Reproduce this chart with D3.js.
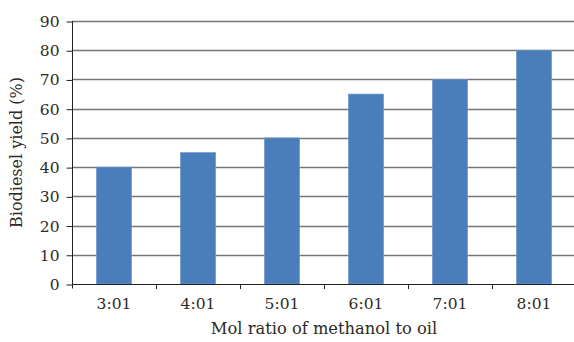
<!DOCTYPE html>
<html><head><meta charset="utf-8">
<script src="https://cdn.jsdelivr.net/npm/d3@7/dist/d3.min.js"></script>
<style>body{margin:0;background:#fff}svg{display:block}</style>
</head><body>
<svg id="c" width="574" height="342"></svg>
<script>
const categories = ["3:01","4:01","5:01","6:01","7:01","8:01"];
const values = [40,45,50,65,70,80];
const yTicks = [0,10,20,30,40,50,60,70,80,90];

(function(){
const svg = d3.select("#c");
const pL = 72, pR = 576, pT = 21, pB = 284;
const font = "'DejaVu Serif', 'Liberation Serif', serif";
const txt = "#302a24";
const x = d3.scaleBand().domain(categories).range([pL, pR]).paddingInner(0.58).paddingOuter(0.29);
const xb = d3.scaleBand().domain(categories).range([pL, pR]);
const y = d3.scaleLinear().domain([0, 90]).range([pB, pT]);

// gridlines
svg.append("g").selectAll("line").data(yTicks.slice(1)).join("line")
  .attr("x1", pL).attr("x2", pR)
  .attr("y1", d => Math.round(y(d)) + 0.5).attr("y2", d => Math.round(y(d)) + 0.5)
  .attr("stroke", "#777").attr("stroke-width", 1.4);

// bars
svg.append("g").selectAll("rect").data(values).join("rect")
  .attr("x", (d, i) => x(categories[i]))
  .attr("width", x.bandwidth())
  .attr("y", d => y(d))
  .attr("height", d => y(0) - y(d))
  .attr("fill", "#4a7ebb")
  .attr("stroke", "#6e98cc").attr("stroke-width", 0.6);

// y axis
const ya = d3.axisLeft(y).tickValues(yTicks).tickSize(6).tickPadding(7);
const gy = svg.append("g").attr("transform", `translate(${pL + 0.5},0.5)`).call(ya);
gy.select(".domain").attr("d", `M-0,${pT - 0.5}V${pB + 4}`).attr("stroke", "#222");
gy.selectAll(".tick line").attr("stroke", "#222");
gy.selectAll("text").attr("font-family", font).attr("font-size", 15.5).attr("fill", txt);

// x axis (ticks at band boundaries)
svg.append("line").attr("x1", pL).attr("x2", pR).attr("y1", pB + 0.5).attr("y2", pB + 0.5).attr("stroke", "#222");
svg.append("g").selectAll("line").data(categories.slice(1)).join("line")
  .attr("x1", d => Math.round(xb(d)) + 0.5).attr("x2", d => Math.round(xb(d)) + 0.5)
  .attr("y1", pB).attr("y2", pB + 5).attr("stroke", "#222");
svg.append("g").selectAll("text").data(categories).join("text")
  .attr("x", d => xb(d) + xb.bandwidth() / 2)
  .attr("y", 309).attr("text-anchor", "middle")
  .attr("font-family", font).attr("font-size", 15.5).attr("fill", txt)
  .text(d => d);

// titles
svg.append("text").attr("x", (pL + pR) / 2).attr("y", 334).attr("text-anchor", "middle")
  .attr("font-family", font).attr("font-size", 16.3).attr("fill", txt)
  .text("Mol ratio of methanol to oil");
svg.append("text").attr("transform", `translate(22,${(pT + pB) / 2}) rotate(-90)`)
  .attr("text-anchor", "middle")
  .attr("font-family", font).attr("font-size", 16).attr("fill", txt)
  .text("Biodiesel yield (%)");
})();
</script>
</body></html>
